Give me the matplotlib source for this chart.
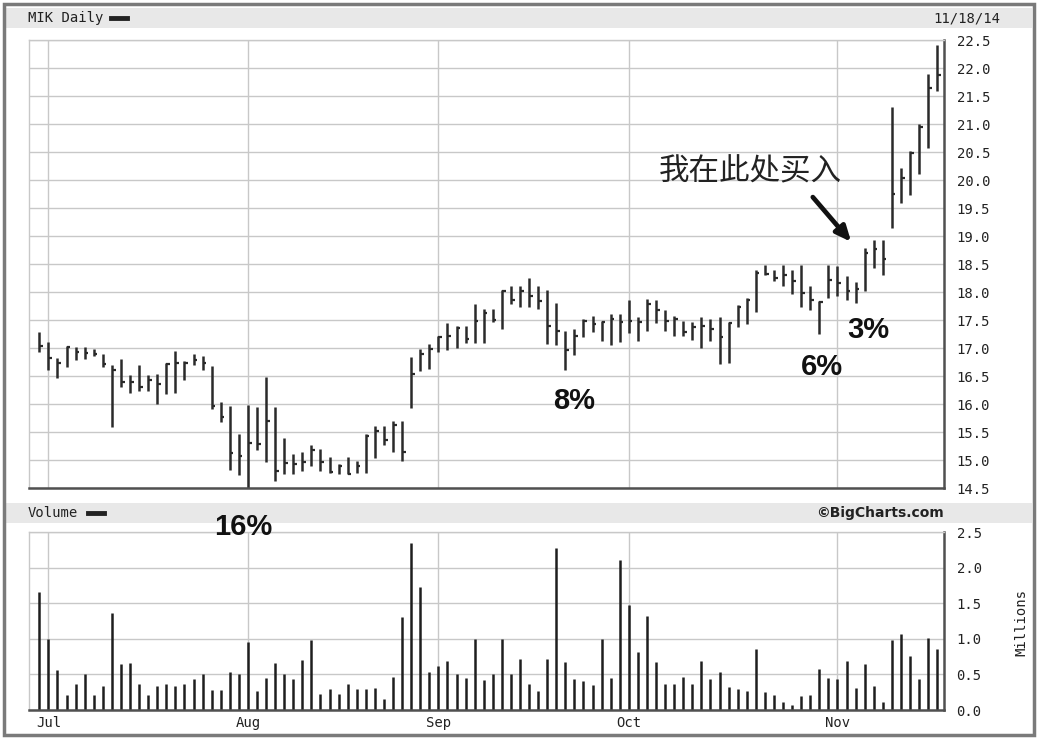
import matplotlib
matplotlib.use("Agg")
import matplotlib.pyplot as plt
from matplotlib.lines import Line2D
from matplotlib.patches import Rectangle
import numpy as np
import pandas as pd

W, H = 1038, 739

# trading days Jun 30 - Nov 18 2014 (Jul 4 and Labor Day closed)
dates = [d for d in pd.bdate_range("2014-06-30", "2014-11-18")
         if d not in (pd.Timestamp("2014-07-04"), pd.Timestamp("2014-09-01"))]

high = [17.28, 17.10, 16.83, 17.04, 17.01, 17.01, 16.98, 16.89, 16.69, 16.80,
        16.52, 16.70, 16.51, 16.54, 16.74, 16.94, 16.77, 16.89, 16.86, 16.67,
        16.03, 15.97, 15.46, 15.99, 15.95, 16.49, 15.95, 15.39, 15.11, 15.15,
        15.27, 15.20, 15.05, 14.93, 15.05, 14.99, 15.47, 15.61, 15.61, 15.70,
        15.70, 16.84, 16.98, 17.08, 17.21, 17.44, 17.40, 17.40, 17.79, 17.70,
        17.70, 18.04, 18.10, 18.10, 18.25, 18.10, 18.04, 17.80, 17.30, 17.34,
        17.52, 17.58, 17.49, 17.60, 17.61, 17.86, 17.55, 17.88, 17.86, 17.68,
        17.58, 17.49, 17.46, 17.56, 17.52, 17.55, 17.46, 17.76, 17.90, 18.40,
        18.49, 18.40, 18.49, 18.40, 18.49, 18.10, 17.84, 18.49, 18.46, 18.28,
        18.18, 18.79, 18.93, 18.93, 21.30, 20.22, 20.52, 21.00, 21.89, 22.41]

low = [16.92, 16.60, 16.46, 16.66, 16.79, 16.80, 16.85, 16.66, 15.59, 16.30,
       16.19, 16.23, 16.23, 16.00, 16.17, 16.19, 16.43, 16.69, 16.60, 15.91,
       15.68, 14.82, 14.74, 14.40, 15.17, 14.97, 14.62, 14.75, 14.75, 14.81,
       14.90, 14.81, 14.76, 14.75, 14.75, 14.76, 14.76, 15.03, 15.27, 15.14,
       14.99, 15.93, 16.59, 16.62, 16.92, 16.97, 17.00, 17.09, 17.09, 17.09,
       17.46, 17.34, 17.78, 17.74, 17.74, 17.70, 17.08, 17.06, 16.61, 16.88,
       17.20, 17.28, 17.13, 17.06, 17.10, 17.26, 17.13, 17.30, 17.44, 17.31,
       17.22, 17.22, 17.14, 17.00, 17.13, 16.72, 16.73, 17.38, 17.43, 17.64,
       18.30, 18.19, 18.10, 17.96, 17.74, 17.67, 17.25, 17.90, 17.92, 17.85,
       17.80, 18.02, 18.43, 18.30, 19.15, 19.59, 19.73, 20.10, 20.58, 21.59]

close = [17.04, 16.83, 16.74, 17.02, 16.92, 16.91, 16.89, 16.71, 16.61, 16.39,
         16.40, 16.30, 16.42, 16.36, 16.71, 16.73, 16.73, 16.79, 16.74, 15.97,
         15.76, 15.12, 15.08, 15.31, 15.29, 15.69, 14.81, 14.94, 14.93, 14.97,
         15.17, 14.96, 14.78, 14.90, 14.75, 14.90, 15.42, 15.52, 15.36, 15.63,
         15.14, 16.53, 16.89, 16.99, 17.19, 17.22, 17.36, 17.16, 17.48, 17.63,
         17.50, 18.01, 17.86, 18.01, 17.92, 17.84, 17.40, 17.30, 16.96, 17.22,
         17.48, 17.43, 17.46, 17.52, 17.46, 17.48, 17.46, 17.79, 17.67, 17.48,
         17.52, 17.28, 17.37, 17.40, 17.34, 17.20, 17.44, 17.73, 17.85, 18.34,
         18.33, 18.25, 18.30, 18.19, 17.98, 17.86, 17.82, 18.22, 18.16, 18.02,
         18.06, 18.70, 18.76, 18.59, 19.75, 20.04, 20.48, 20.94, 21.64, 21.87]

# millions of shares
volume = [1.66, 1.00, 0.56, 0.21, 0.36, 0.51, 0.21, 0.34, 1.36, 0.64,
          0.66, 0.36, 0.21, 0.34, 0.36, 0.34, 0.37, 0.44, 0.51, 0.28,
          0.28, 0.54, 0.50, 0.96, 0.26, 0.45, 0.66, 0.50, 0.44, 0.70,
          0.98, 0.23, 0.29, 0.23, 0.37, 0.29, 0.29, 0.31, 0.15, 0.47,
          1.31, 2.35, 1.73, 0.54, 0.62, 0.69, 0.50, 0.45, 1.00, 0.42,
          0.50, 1.00, 0.51, 0.71, 0.37, 0.26, 0.71, 2.27, 0.68, 0.44,
          0.41, 0.35, 1.00, 0.45, 2.10, 1.47, 0.82, 1.32, 0.68, 0.36,
          0.36, 0.47, 0.36, 0.69, 0.44, 0.53, 0.33, 0.29, 0.27, 0.86,
          0.25, 0.21, 0.11, 0.07, 0.20, 0.21, 0.57, 0.45, 0.44, 0.69,
          0.31, 0.65, 0.34, 0.11, 0.98, 1.07, 0.76, 0.44, 1.01, 0.86]

price_ticks = np.arange(14.5, 22.51, 0.5)
vol_ticks = np.arange(0.0, 2.51, 0.5)
gain_labels = ["16%", "8%", "6%", "3%"]
buy_label = "我在此处买入"

MONO = "DejaVu Sans Mono"
GRID = "#c8c8c8"
DARK = "#505050"


def fx(x):
    return x / W


def fy(y):
    return 1 - y / H


x = np.arange(len(dates))
month_idx = [i for i in range(1, len(dates)) if dates[i].month != dates[i - 1].month]
month_lbl = [dates[i].strftime("%b") for i in month_idx]

fig = plt.figure(figsize=(W / 100, H / 100), dpi=100)
fig.patch.set_facecolor("white")

# outer frame and header bands
fig.add_artist(Rectangle((fx(4), fy(735)), fx(1030), fy(4) - fy(735), transform=fig.transFigure,
                         fill=False, edgecolor="#7a7a7a", lw=2.5))
for y0, y1 in [(8, 28), (503, 523)]:
    fig.add_artist(Rectangle((fx(6), fy(y1)), fx(1026), fy(y0) - fy(y1), transform=fig.transFigure,
                             facecolor="#e8e8e8", edgecolor="none", zorder=0))

left, right = 29, 944
ax = fig.add_axes([fx(left), fy(488), fx(right - left), fy(40) - fy(488)])
axv = fig.add_axes([fx(left), fy(710), fx(right - left), fy(532) - fy(710)])

xlim = (-1.14, 99.75)

# price bars (high-low-close)
ax.vlines(x, low, high, color="#2a2a2a", lw=1.8)
ax.hlines(close, x, x + 0.4, color="#2a2a2a", lw=1.6)
ax.set_xlim(*xlim)
ax.set_ylim(14.5, 22.5)
ax.set_yticks(price_ticks)
ax.set_yticklabels([f"{v:.1f}" for v in price_ticks])
ax.set_xticks(month_idx)
ax.set_xticklabels([])

# volume bars
axv.vlines(x, 0, volume, color="#1e1e1e", lw=1.8)
axv.set_xlim(*xlim)
axv.set_ylim(0, 2.5)
axv.set_yticks(vol_ticks)
axv.set_yticklabels([f"{v:.1f}" for v in vol_ticks])
axv.set_xticks(month_idx)
axv.set_xticklabels(month_lbl)

for a in (ax, axv):
    a.yaxis.tick_right()
    a.grid(True, color=GRID, lw=1)
    a.set_axisbelow(True)
    a.tick_params(length=0, labelsize=10, pad=9)
    for lab in a.get_yticklabels() + a.get_xticklabels():
        lab.set_family(MONO)
        lab.set_color("#222222")
    for s in ("left", "top"):
        a.spines[s].set_color(GRID)
        a.spines[s].set_linewidth(1)
    for s in ("right", "bottom"):
        a.spines[s].set_color(DARK)
        a.spines[s].set_linewidth(1.8)
axv.tick_params(axis="x", pad=4)

# header texts
fig.text(fx(28), fy(18), "MIK Daily", family=MONO, fontsize=10, va="center", color="#222222")
fig.add_artist(Line2D([fx(111), fx(127)], [fy(18), fy(18)], color="#222222", lw=3.5,
                      transform=fig.transFigure))
fig.text(fx(1000), fy(18), "11/18/14", family=MONO, fontsize=10, va="center", ha="right",
         color="#222222")
fig.text(fx(28), fy(513), "Volume", family=MONO, fontsize=10, va="center", color="#222222")
fig.add_artist(Line2D([fx(88), fx(104)], [fy(513), fy(513)], color="#222222", lw=3.5,
                      transform=fig.transFigure))
fig.text(fx(944), fy(513), "©BigCharts.com", family="DejaVu Sans", fontsize=10,
         fontweight="bold", va="center", ha="right", color="#222222")
fig.text(fx(1021), fy(622), "Millions", family=MONO, fontsize=10, rotation=90,
         va="center", ha="center", color="#222222")

# annotations
for lbl, (px, py) in zip(gain_labels, [(243, 527), (574, 401), (822, 367), (868, 330)]):
    fig.text(fx(px), fy(py), lbl, family="Liberation Sans", fontweight="bold",
             fontsize=21, ha="center", va="center", color="#111111")

fig.text(fx(750), fy(172), buy_label, family=["Noto Sans CJK SC", "DejaVu Sans"],
         fontsize=22, fontweight="light", ha="center", va="center", color="#222222")
fig.add_artist(plt.Annotation("", xy=(fx(853), fy(244)), xytext=(fx(811), fy(195)),
                              xycoords="figure fraction", textcoords="figure fraction",
                              arrowprops=dict(arrowstyle="-|>,head_length=0.9,head_width=0.4",
                                              color="#111111", lw=3.4)))

fig.savefig("out.png", dpi=100)
